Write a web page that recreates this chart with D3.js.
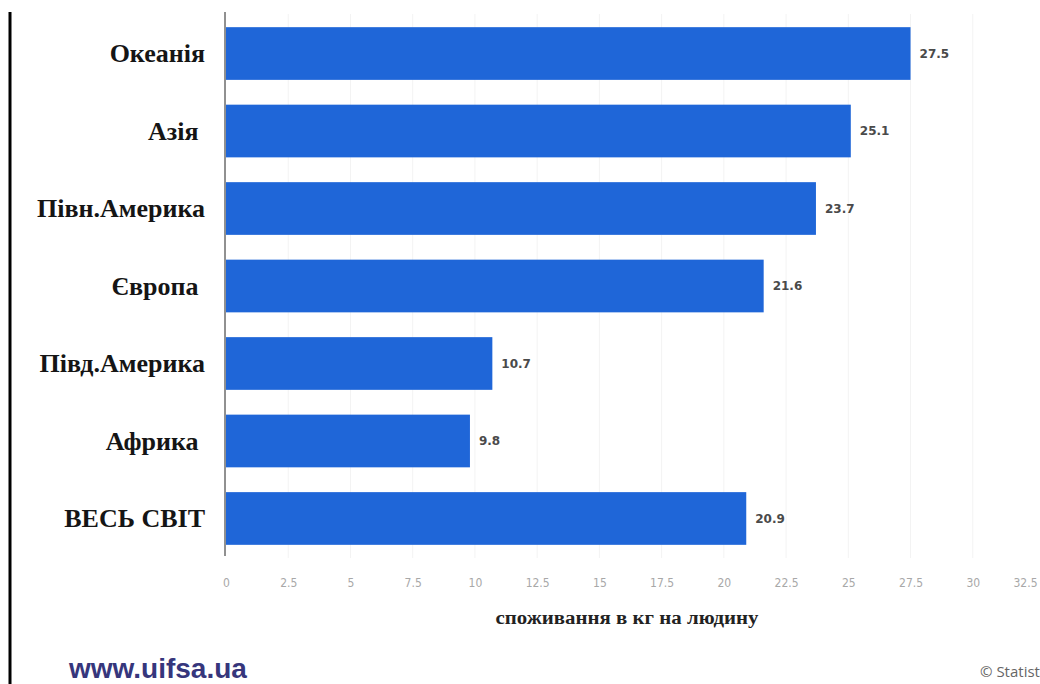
<!DOCTYPE html>
<html>
<head>
<meta charset="utf-8">
<script src="https://cdn.jsdelivr.net/npm/d3@7"></script>
<style>
  body { margin: 0; background: #fff; }
  svg { display: block; }
</style>
</head>
<body>
<svg id="chart"></svg>
<script>
var regions = ['Океанія', 'Азія ', 'Півн.Америка', 'Європа ', 'Півд.Америка', 'Африка ', 'ВЕСЬ СВІТ'];
var consumption = [27.5, 25.1, 23.7, 21.6, 10.7, 9.8, 20.9];
var tickValues = [0, 2.5, 5, 7.5, 10, 12.5, 15, 17.5, 20, 22.5, 25, 27.5, 30, 32.5];
var axisTitle = 'споживання в кг на людину';
var siteLabel = 'www.uifsa.ua';
var sourceLabel = '© Statista';

var width = 1040, height = 684;
var plot = { left: 226, right: 1035, top: 14, bottom: 558 };

var svg = d3.select('#chart')
    .attr('width', width)
    .attr('height', height);

var xScale = d3.scaleLinear()
    .domain([0, 32.5])
    .range([plot.left, plot.right]);

var yScale = d3.scaleBand()
    .domain(regions)
    .range([plot.top, plot.bottom])
    .paddingInner(0.32)
    .paddingOuter(0.17);

// left page border
svg.append('line')
    .attr('x1', 10).attr('x2', 10)
    .attr('y1', 12).attr('y2', height)
    .attr('stroke', '#000')
    .attr('stroke-width', 3);

// faint gridlines
svg.append('g')
    .selectAll('line')
    .data(tickValues.slice(1, -1))
    .enter().append('line')
    .attr('x1', function(d) { return xScale(d); })
    .attr('x2', function(d) { return xScale(d); })
    .attr('y1', plot.top)
    .attr('y2', plot.bottom)
    .attr('stroke', '#f3f3f3')
    .attr('stroke-width', 1);

// bars
svg.append('g')
    .selectAll('rect')
    .data(consumption)
    .enter().append('rect')
    .attr('x', xScale(0))
    .attr('y', function(d, i) { return yScale(regions[i]); })
    .attr('width', function(d) { return xScale(d) - xScale(0); })
    .attr('height', yScale.bandwidth())
    .attr('fill', '#1f66d8');

// value labels
svg.append('g')
    .selectAll('text')
    .data(consumption)
    .enter().append('text')
    .attr('x', function(d) { return xScale(d) + 9; })
    .attr('y', function(d, i) { return yScale(regions[i]) + yScale.bandwidth() / 2; })
    .attr('dy', '0.35em')
    .attr('font-family', 'DejaVu Sans, sans-serif')
    .attr('font-size', 12)
    .attr('font-weight', 'bold')
    .attr('fill', '#4a4a4a')
    .text(function(d) { return d; });

// category labels
svg.append('g')
    .selectAll('text')
    .data(regions)
    .enter().append('text')
    .attr('x', 205)
    .attr('y', function(d) { return yScale(d) + yScale.bandwidth() / 2; })
    .attr('dy', '0.33em')
    .attr('text-anchor', 'end')
    .attr('font-family', 'Liberation Serif, Times New Roman, serif')
    .attr('font-size', 26)
    .attr('font-weight', 'bold')
    .attr('fill', '#151515')
    .style('white-space', 'pre')
    .text(function(d) { return d; });

// y axis line
svg.append('line')
    .attr('x1', xScale(0) - 1).attr('x2', xScale(0) - 1)
    .attr('y1', 12).attr('y2', 556)
    .attr('stroke', '#222')
    .attr('stroke-width', 1);

// x axis tick labels
var xAxis = d3.axisBottom(xScale)
    .tickValues(tickValues)
    .tickSize(0)
    .tickPadding(0)
    .tickFormat(function(d) { return d; });

var gx = svg.append('g')
    .attr('transform', 'translate(0,578)')
    .call(xAxis);
gx.select('.domain').remove();
gx.selectAll('text')
    .attr('font-family', 'DejaVu Sans Condensed, DejaVu Sans, sans-serif')
    .attr('font-size', 12)
    .attr('fill', '#a8a8a8');
// last label squeezed against the right edge, as in the source image
gx.selectAll('.tick').filter(function(d) { return d === 32.5; })
    .select('text')
    .attr('text-anchor', 'end')
    .attr('x', 2);

// axis title
svg.append('text')
    .attr('x', 627)
    .attr('y', 624)
    .attr('text-anchor', 'middle')
    .attr('font-family', 'Liberation Serif, Times New Roman, serif')
    .attr('font-size', 18)
    .attr('font-weight', 'bold')
    .attr('fill', '#222')
    .attr('textLength', 263)
    .attr('lengthAdjust', 'spacingAndGlyphs')
    .text(axisTitle);

// footer
svg.append('text')
    .attr('x', 69)
    .attr('y', 678)
    .attr('font-family', 'Liberation Sans, Arial, sans-serif')
    .attr('font-size', 28)
    .attr('font-weight', 'bold')
    .attr('fill', '#36367c')
    .text(siteLabel);

svg.append('text')
    .attr('x', 980)
    .attr('y', 677)
    .attr('font-family', 'Open Sans, sans-serif')
    .attr('font-size', 15)
    .attr('fill', '#666')
    .text(sourceLabel);
</script>
</body>
</html>
